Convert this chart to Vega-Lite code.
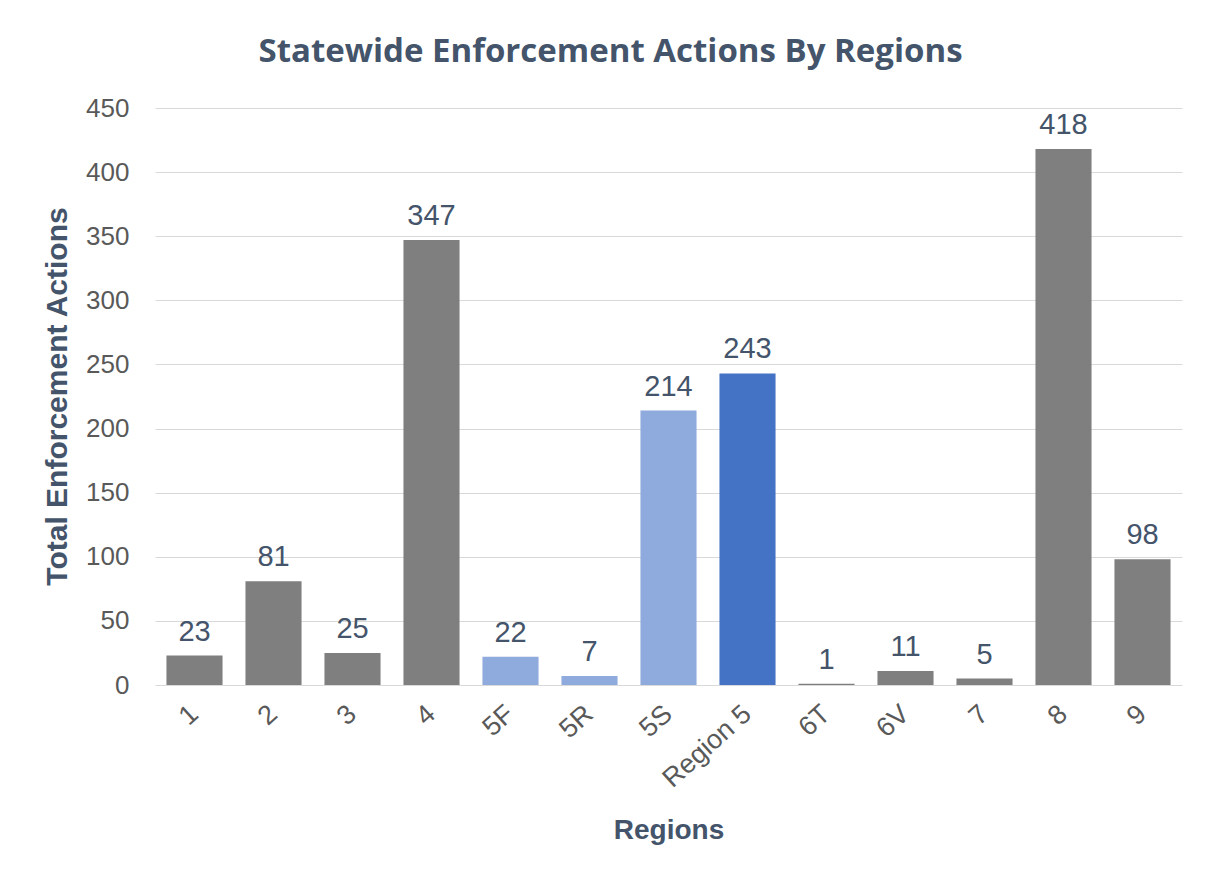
{
  "$schema": "https://vega.github.io/schema/vega-lite/v6.json",
  "width": 1027,
  "height": 577,
  "autosize": {"type": "none"},
  "padding": {"left": 155, "top": 108, "right": 24, "bottom": 191},
  "background": "white",
  "title": {
    "text": "Statewide Enforcement Actions By Regions",
    "font": "Open Sans",
    "fontSize": 33,
    "fontWeight": 700,
    "color": "#44546a",
    "anchor": "middle",
    "frame": "group",
    "dx": -58,
    "offset": 26
  },
  "data": {
    "values": [
      {"region": "1", "actions": 23, "group": "other"},
      {"region": "2", "actions": 81, "group": "other"},
      {"region": "3", "actions": 25, "group": "other"},
      {"region": "4", "actions": 347, "group": "other"},
      {"region": "5F", "actions": 22, "group": "sub5"},
      {"region": "5R", "actions": 7, "group": "sub5"},
      {"region": "5S", "actions": 214, "group": "sub5"},
      {"region": "Region 5", "actions": 243, "group": "region5"},
      {"region": "6T", "actions": 1, "group": "other"},
      {"region": "6V", "actions": 11, "group": "other"},
      {"region": "7", "actions": 5, "group": "other"},
      {"region": "8", "actions": 418, "group": "other"},
      {"region": "9", "actions": 98, "group": "other"}
    ]
  },
  "encoding": {
    "x": {
      "field": "region",
      "type": "nominal",
      "sort": null,
      "scale": {"paddingInner": 0.29, "paddingOuter": 0.145},
      "axis": {
        "title": "Regions",
        "titleFont": "Liberation Sans",
        "titleFontSize": 28,
        "titleFontWeight": "bold",
        "titleColor": "#44546a",
        "titleBaseline": "middle",
        "titleY": 145,
        "labelAngle": -42,
        "labelAlign": "right",
        "labelBaseline": "middle",
        "labelFont": "Liberation Sans",
        "labelFontSize": 27,
        "labelColor": "#595959",
        "labelPadding": 25,
        "ticks": false,
        "domain": false,
        "grid": false
      }
    },
    "y": {
      "field": "actions",
      "type": "quantitative",
      "scale": {"domain": [0, 450], "nice": false},
      "axis": {
        "title": "Total Enforcement Actions",
        "titleFont": "Liberation Sans",
        "titleFontSize": 30,
        "titleFontWeight": "bold",
        "titleColor": "#44546a",
        "titleBaseline": "middle",
        "titleX": -98,
        "titleY": 288,
        "values": [0, 50, 100, 150, 200, 250, 300, 350, 400, 450],
        "labelFont": "Liberation Sans",
        "labelFontSize": 26,
        "labelColor": "#595959",
        "labelPadding": 26,
        "ticks": false,
        "domain": false,
        "grid": true,
        "gridColor": "#d9d9d9",
        "gridWidth": 1
      }
    }
  },
  "layer": [
    {
      "mark": {"type": "bar"},
      "encoding": {
        "color": {
          "field": "group",
          "type": "nominal",
          "scale": {"domain": ["other", "sub5", "region5"], "range": ["#7f7f7f", "#8faadc", "#4472c4"]},
          "legend": null
        }
      }
    },
    {
      "mark": {
        "type": "text",
        "baseline": "alphabetic",
        "dy": -15,
        "font": "Liberation Sans",
        "fontSize": 29,
        "color": "#44546a"
      },
      "encoding": {
        "text": {"field": "actions", "type": "quantitative"}
      }
    }
  ],
  "config": {"view": {"stroke": null}}
}
